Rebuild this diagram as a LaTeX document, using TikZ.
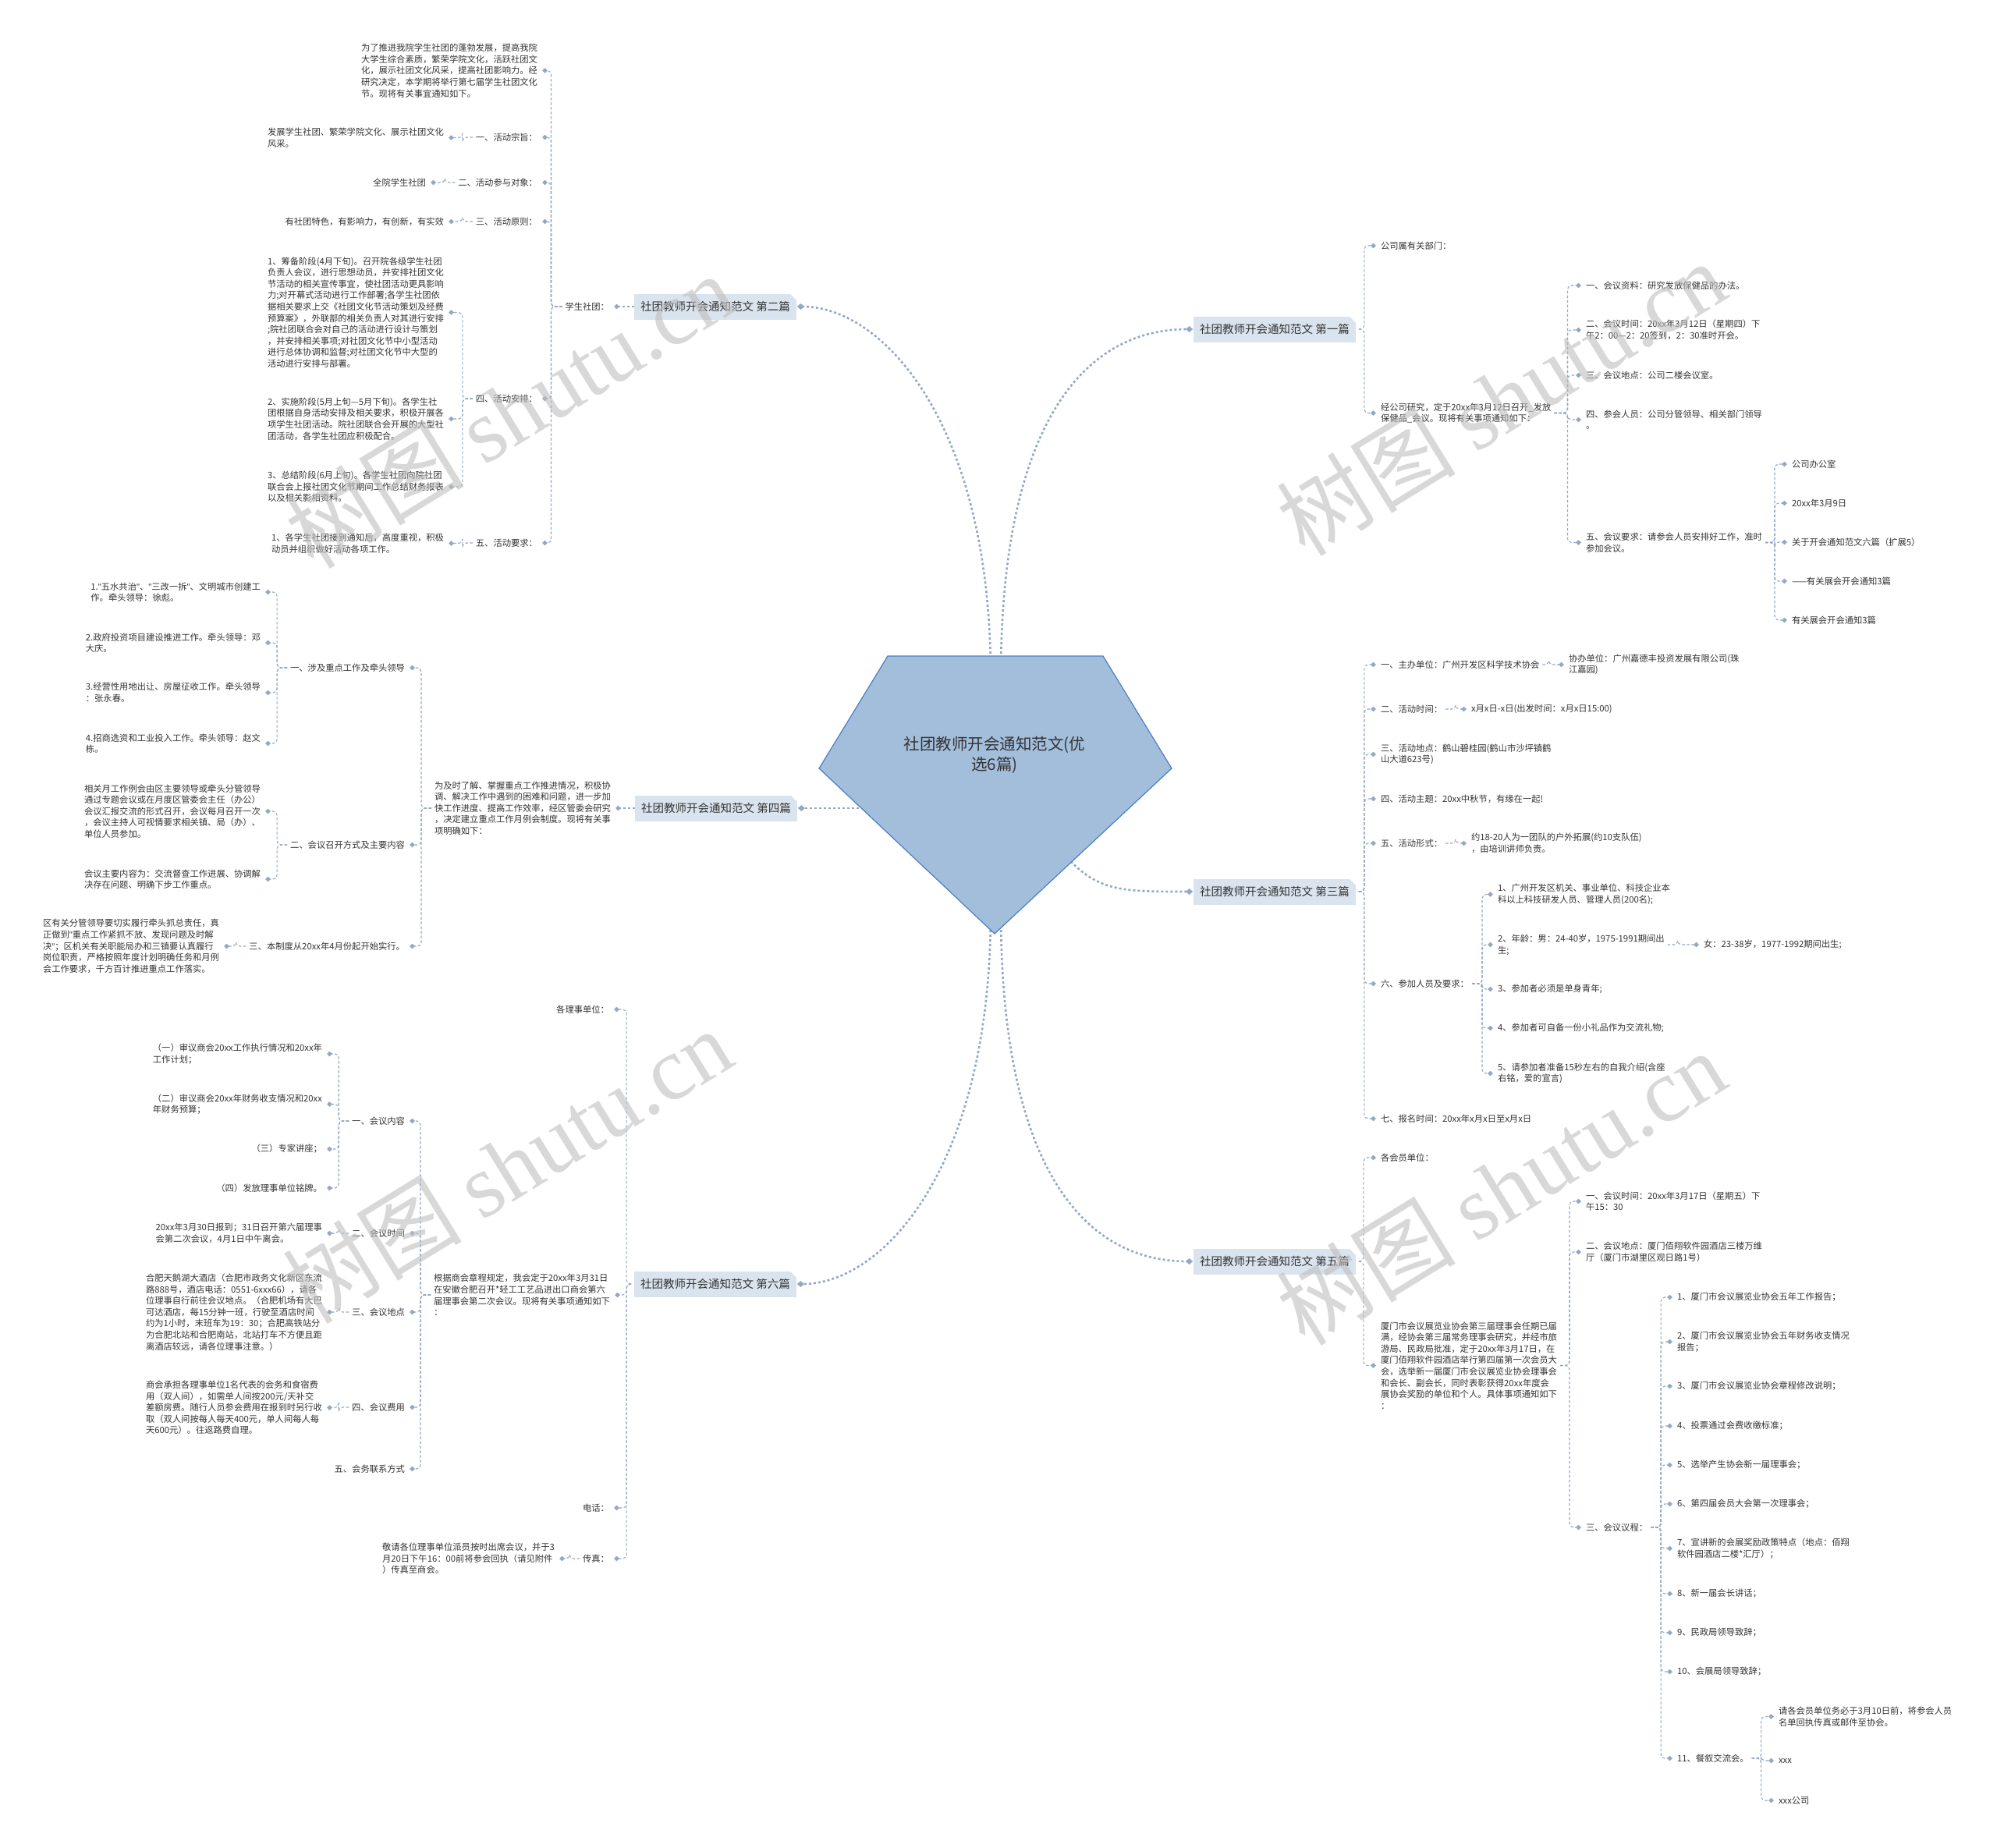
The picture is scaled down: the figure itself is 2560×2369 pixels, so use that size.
\documentclass[tikz,border=0pt]{standalone}
\usepackage{fontspec}
\setmainfont{Noto Sans CJK SC}
\newfontfamily\wmlatin{Liberation Serif}
\newfontfamily\qfont{Liberation Sans}
\newcommand\qq{{\qfont"}}
\usetikzlibrary{arrows.meta}
\definecolor{linec}{HTML}{92A9C4}
\definecolor{textc}{HTML}{333333}
\definecolor{boxc}{HTML}{DAE4EE}
\definecolor{pentf}{HTML}{A3BEDB}
\definecolor{pentd}{HTML}{4A7EC4}
\definecolor{wmc}{HTML}{BEBEBE}
\newcommand\cL[3]{\draw[conn] ([xshift=-4pt]#1.west) -- ([xshift=-#3pt]#1.west) |- ([xshift=6pt]#2.east);}
\newcommand\cR[3]{\draw[conn] ([xshift=4pt]#1.east) -- ([xshift=#3pt]#1.east) |- ([xshift=-6pt]#2.west);}
\tikzset{
  txt/.style={font=\fontsize{11.3pt}{14.6pt}\selectfont, text=textc, inner sep=0pt, outer sep=0pt, align=left},
  lt/.style={txt, anchor=east},
  rt/.style={txt, anchor=west},
  mbox/.style={fill=boxc, text=textc, font=\fontsize{14.5pt}{17pt}\selectfont, inner xsep=8pt, inner ysep=0pt, minimum height=33pt, outer sep=0pt},
  conn/.style={draw=linec, line width=1.1pt, dash pattern=on 3.5pt off 2.5pt, rounded corners=5pt, -{Diamond[length=7pt,width=6.5pt]}},
  mainconn/.style={draw=linec, line width=2.6pt, dash pattern=on 3pt off 3pt, -{Diamond[length=9pt,width=8pt]}},
  wm/.style={rotate=31.6, text=wmc, opacity=0.6, font=\fontsize{115pt}{115pt}\selectfont, inner sep=0pt}
}
\begin{document}
\begin{tikzpicture}[x=1pt,y=-1pt]
\useasboundingbox (0,0) rectangle (2560,2369);
\fill[white] (0,0) rectangle (2560,2369);
\coordinate (ctr) at (1275,968);

% main boxes
\node[mbox] (b2) at (917,393) {社团教师开会通知范文 第二篇};
\node[mbox] (b4) at (918,1036) {社团教师开会通知范文 第四篇};
\node[mbox] (b6) at (917,1646) {社团教师开会通知范文 第六篇};
\node[mbox] (b1) at (1634,422) {社团教师开会通知范文 第一篇};
\node[mbox] (b3) at (1634,1143) {社团教师开会通知范文 第三篇};
\node[mbox] (b5) at (1634,1617) {社团教师开会通知范文 第五篇};
\foreach \b in {b1,b2,b3,b4,b5,b6}
  \fill[white] ([xshift=-8pt]\b.north east) -- (\b.north east) -- ([yshift=-8pt]\b.north east) -- cycle;

% main connectors
\draw[mainconn] ([xshift=-5pt,yshift=100pt]ctr) .. controls (1270,540) and (1130,393) .. ([xshift=1pt]b2.east);
\draw[mainconn] ([xshift=8pt,yshift=100pt]ctr) .. controls (1283,560) and (1380,422) .. ([xshift=-1pt]b1.west);
\draw[mainconn] ([yshift=-68pt]ctr) -- ([xshift=1pt]b4.east);
\draw[mainconn] (ctr) .. controls (1390,1143) .. ([xshift=-1pt]b3.west);
\draw[mainconn] ([xshift=-5pt,yshift=-200pt]ctr) .. controls (1270,1500) and (1130,1646) .. ([xshift=1pt]b6.east);
\draw[mainconn] ([xshift=8pt,yshift=-200pt]ctr) .. controls (1283,1480) and (1380,1617) .. ([xshift=-1pt]b5.west);

% centre pentagon
\filldraw[fill=pentf, draw=pentd, line width=1.2pt] (1138,841) -- (1414,841) -- (1502,985) -- (1275,1197) -- (1050,985) -- cycle;
\node[font=\fontsize{20.5pt}{26pt}\selectfont, text=textc, align=center] (ctrtext) at (ctr) {社团教师开会通知范文(优\\选6篇)};

% ---------- 第二篇 ----------
\node[lt] (s2) at (781,393) {学生社团：};
\node[lt] (a1) at (689,90.5) {为了推进我院学生社团的蓬勃发展，提高我院\\大学生综合素质，繁荣学院文化，活跃社团文\\化，展示社团文化风采，提高社团影响力。经\\研究决定，本学期将举行第七届学生社团文化\\节。现将有关事宜通知如下。};
\node[lt] (a2) at (689,176) {一、活动宗旨：};
\node[lt] (a3) at (689,234) {二、活动参与对象：};
\node[lt] (a4) at (689,284) {三、活动原则：};
\node[lt] (a5) at (689,511) {四、活动安排：};
\node[lt] (a6) at (689,696) {五、活动要求：};
\node[lt] (a2c) at (569,176.5) {发展学生社团、繁荣学院文化、展示社团文化\\风采。};
\node[lt] (a3c) at (546,234) {全院学生社团};
\node[lt] (a4c) at (569,284) {有社团特色，有影响力，有创新，有实效};
\node[lt] (a5c1) at (569,400.5) {1、筹备阶段(4月下旬)。召开院各级学生社团\\负责人会议，进行思想动员，并安排社团文化\\节活动的相关宣传事宜，使社团活动更具影响\\力;对开幕式活动进行工作部署;各学生社团依\\据相关要求上交《社团文化节活动策划及经费\\预算案》，外联部的相关负责人对其进行安排\\;院社团联合会对自己的活动进行设计与策划\\，并安排相关事项;对社团文化节中小型活动\\进行总体协调和监督;对社团文化节中大型的\\活动进行安排与部署。};
\node[lt] (a5c2) at (569,537) {2、实施阶段(5月上旬—5月下旬)。各学生社\\团根据自身活动安排及相关要求，积极开展各\\项学生社团活动。院社团联合会开展的大型社\\团活动，各学生社团应积极配合。};
\node[lt] (a5c3) at (569,624) {3、总结阶段(6月上旬)。各学生社团向院社团\\联合会上报社团文化节期间工作总结财务报表\\以及相关影相资料。};
\node[lt] (a6c) at (569,696.5) {1、各学生社团接到通知后，高度重视，积极\\动员并组织做好活动各项工作。};
\draw[conn] (b2.west) -- ([xshift=6pt]s2.east);
\cL{s2}{a1}{18}\cL{s2}{a2}{18}\cL{s2}{a3}{18}\cL{s2}{a4}{18}\cL{s2}{a5}{18}\cL{s2}{a6}{18}
\cL{a2}{a2c}{17}\cL{a3}{a3c}{17}\cL{a4}{a4c}{17}
\cL{a5}{a5c1}{17}\cL{a5}{a5c2}{17}\cL{a5}{a5c3}{17}
\cL{a6}{a6c}{17}

% ---------- 第四篇 ----------
\node[lt] (c4) at (783,1036) {为及时了解、掌握重点工作推进情况，积极协\\调、解决工作中遇到的困难和问题，进一步加\\快工作进度、提高工作效率，经区管委会研究\\，决定建立重点工作月例会制度。现将有关事\\项明确如下：};
\node[lt] (d1) at (519,856) {一、涉及重点工作及牵头领导};
\node[lt] (d2) at (519,1083) {二、会议召开方式及主要内容};
\node[lt] (d3) at (519,1213) {三、本制度从20xx年4月份起开始实行。};
\node[lt] (d1c1) at (334,759) {1.\qq 五水共治\qq 、\qq 三改一拆\qq 、文明城市创建工\\作。牵头领导：徐彪。};
\node[lt] (d1c2) at (334,824) {2.政府投资项目建设推进工作。牵头领导：邓\\大庆。};
\node[lt] (d1c3) at (334,888) {3.经营性用地出让、房屋征收工作。牵头领导\\：张永春。};
\node[lt] (d1c4) at (334,953) {4.招商选资和工业投入工作。牵头领导：赵文\\栋。};
\node[lt] (d2c1) at (334,1040) {相关月工作例会由区主要领导或牵头分管领导\\通过专题会议或在月度区管委会主任（办公）\\会议汇报交流的形式召开，会议每月召开一次\\，会议主持人可视情要求相关镇、局（办）、\\单位人员参加。};
\node[lt] (d2c2) at (334,1127) {会议主要内容为：交流督查工作进展、协调解\\决存在问题、明确下步工作重点。};
\node[lt] (d3c) at (281,1213) {区有关分管领导要切实履行牵头抓总责任，真\\正做到\qq 重点工作紧抓不放、发现问题及时解\\决\qq ；区机关有关职能局办和三镇要认真履行\\岗位职责，严格按照年度计划明确任务和月例\\会工作要求，千方百计推进重点工作落实。};
\draw[conn] (b4.west) -- ([xshift=6pt]c4.east);
\cL{c4}{d1}{17}\cL{c4}{d2}{17}\cL{c4}{d3}{17}
\cL{d1}{d1c1}{17}\cL{d1}{d1c2}{17}\cL{d1}{d1c3}{17}\cL{d1}{d1c4}{17}
\cL{d2}{d2c1}{17}\cL{d2}{d2c2}{17}
\cL{d3}{d3c}{17}

% ---------- 第六篇 ----------
\node[lt] (e1) at (781,1294) {各理事单位：};
\node[lt] (e2) at (782,1660) {根据商会章程规定，我会定于20xx年3月31日\\在安徽合肥召开*轻工工艺品进出口商会第六\\届理事会第二次会议。现将有关事项通知如下\\：};
\node[lt] (e3) at (781,1933) {电话：};
\node[lt] (e4) at (781,1998) {传真：};
\node[lt] (f1) at (519,1437) {一、会议内容};
\node[lt] (f2) at (519,1581) {二、会议时间};
\node[lt] (f3) at (519,1682) {三、会议地点};
\node[lt] (f4) at (519,1804) {四、会议费用};
\node[lt] (f5) at (519,1883) {五、会务联系方式};
\node[lt] (f1c1) at (413,1351) {（一）审议商会20xx工作执行情况和20xx年\\工作计划；};
\node[lt] (f1c2) at (413,1415.5) {（二）审议商会20xx年财务收支情况和20xx\\年财务预算；};
\node[lt] (f1c3) at (413,1473) {（三）专家讲座；};
\node[lt] (f1c4) at (413,1523) {（四）发放理事单位铭牌。};
\node[lt] (f2c) at (413,1581) {20xx年3月30日报到；31日召开第六届理事\\会第二次会议，4月1日中午离会。};
\node[lt] (f3c) at (413,1682) {合肥天鹅湖大酒店（合肥市政务文化新区东流\\路888号，酒店电话：0551-6xxx66），请各\\位理事自行前往会议地点。（合肥机场有大巴\\可达酒店，每15分钟一班，行驶至酒店时间\\约为1小时，末班车为19：30；合肥高铁站分\\为合肥北站和合肥南站，北站打车不方便且距\\离酒店较远，请各位理事注意。）};
\node[lt] (f4c) at (413,1804.5) {商会承担各理事单位1名代表的会务和食宿费\\用（双人间），如需单人间按200元/天补交\\差额房费。随行人员参会费用在报到时另行收\\取（双人间按每人每天400元，单人间每人每\\天600元）。往返路费自理。};
\node[lt] (e4c) at (711,1998) {敬请各位理事单位派员按时出席会议，并于3\\月20日下午16：00前将参会回执（请见附件\\）传真至商会。};
\cL{b6}{e1}{10}\cL{b6}{e2}{10}\cL{b6}{e3}{10}\cL{b6}{e4}{10}
\cL{e2}{f1}{17}\cL{e2}{f2}{17}\cL{e2}{f3}{17}\cL{e2}{f4}{17}\cL{e2}{f5}{17}
\cL{f1}{f1c1}{17}\cL{f1}{f1c2}{17}\cL{f1}{f1c3}{17}\cL{f1}{f1c4}{17}
\cL{f2}{f2c}{17}\cL{f3}{f3c}{17}\cL{f4}{f4c}{17}
\cL{e4}{e4c}{17}

% ---------- 第一篇 ----------
\node[rt] (g1) at (1770,315) {公司属有关部门：};
\node[rt] (g2) at (1770,529.5) {经公司研究，定于20xx年3月12日召开\_发放\\保健品\_会议。现将有关事项通知如下：};
\node[rt] (h1) at (2033,366) {一、会议资料：研究发放保健品的办法。};
\node[rt] (h2) at (2033,423) {二、会议时间：20xx年3月12日（星期四）下\\午2：00—2：20签到，2：30准时开会。};
\node[rt] (h3) at (2033,481) {三、会议地点：公司二楼会议室。};
\node[rt] (h4) at (2033,538) {四、参会人员：公司分管领导、相关部门领导\\。};
\node[rt] (h5) at (2033,695.5) {五、会议要求：请参会人员安排好工作，准时\\参加会议。};
\node[rt] (h5c1) at (2297,595) {公司办公室};
\node[rt] (h5c2) at (2297,645) {20xx年3月9日};
\node[rt] (h5c3) at (2297,695) {关于开会通知范文六篇（扩展5）};
\node[rt] (h5c4) at (2297,745) {——有关展会开会通知3篇};
\node[rt] (h5c5) at (2297,795) {有关展会开会通知3篇};
\cR{b1}{g1}{11}\cR{b1}{g2}{11}
\cR{g2}{h1}{21}\cR{g2}{h2}{21}\cR{g2}{h3}{21}\cR{g2}{h4}{21}\cR{g2}{h5}{21}
\cR{h5}{h5c1}{16}\cR{h5}{h5c2}{16}\cR{h5}{h5c3}{16}\cR{h5}{h5c4}{16}\cR{h5}{h5c5}{16}

% ---------- 第三篇 ----------
\node[rt] (i1) at (1770,852) {一、主办单位：广州开发区科学技术协会};
\node[rt] (i2) at (1770,909) {二、活动时间：};
\node[rt] (i3) at (1770,967) {三、活动地点：鹤山碧桂园(鹤山市沙坪镇鹤\\山大道623号)};
\node[rt] (i4) at (1770,1024) {四、活动主题：20xx中秋节，有缘在一起!};
\node[rt] (i5) at (1770,1081) {五、活动形式：};
\node[rt] (i6) at (1770,1261) {六、参加人员及要求：};
\node[rt] (i7) at (1770,1434) {七、报名时间：20xx年x月x日至x月x日};
\node[rt] (i1c) at (2011,852) {协办单位：广州嘉德丰投资发展有限公司(珠\\江嘉园)};
\node[rt] (i2c) at (1886,909) {x月x日-x日(出发时间：x月x日15:00)};
\node[rt] (i5c) at (1886,1081) {约18-20人为一团队的户外拓展(约10支队伍)\\，由培训讲师负责。};
\node[rt] (i6c1) at (1920,1146.5) {1、广州开发区机关、事业单位、科技企业本\\科以上科技研发人员、管理人员(200名);};
\node[rt] (i6c2) at (1920,1211) {2、年龄：男：24-40岁，1975-1991期间出\\生;};
\node[rt] (i6c3) at (1920,1268) {3、参加者必须是单身青年;};
\node[rt] (i6c4) at (1920,1318) {4、参加者可自备一份小礼品作为交流礼物;};
\node[rt] (i6c5) at (1920,1376) {5、请参加者准备15秒左右的自我介绍(含座\\右铭，爱的宣言)};
\node[rt] (i6c2c) at (2184,1211) {女：23-38岁，1977-1992期间出生;};
\cR{b3}{i1}{11}\cR{b3}{i2}{11}\cR{b3}{i3}{11}\cR{b3}{i4}{11}\cR{b3}{i5}{11}\cR{b3}{i6}{11}\cR{b3}{i7}{11}
\cR{i1}{i1c}{12}\cR{i2}{i2c}{17}\cR{i5}{i5c}{17}
\cR{i6}{i6c1}{17}\cR{i6}{i6c2}{17}\cR{i6}{i6c3}{17}\cR{i6}{i6c4}{17}\cR{i6}{i6c5}{17}
\cR{i6c2}{i6c2c}{17}

% ---------- 第五篇 ----------
\node[rt] (k1) at (1770,1484) {各会员单位：};
\node[rt] (k2) at (1770,1750.5) {厦门市会议展览业协会第三届理事会任期已届\\满，经协会第三届常务理事会研究，并经市旅\\游局、民政局批准，定于20xx年3月17日，在\\厦门佰翔软件园酒店举行第四届第一次会员大\\会，选举新一届厦门市会议展览业协会理事会\\和会长、副会长，同时表彰获得20xx年度会\\展协会奖励的单位和个人。具体事项通知如下\\：};
\node[rt] (l1) at (2033,1540) {一、会议时间：20xx年3月17日（星期五）下\\午15：30};
\node[rt] (l2) at (2033,1605) {二、会议地点：厦门佰翔软件园酒店三楼万维\\厅（厦门市湖里区观日路1号）};
\node[rt] (l3) at (2033,1958) {三、会议议程：};
\node[rt] (m1) at (2150,1663) {1、厦门市会议展览业协会五年工作报告；};
\node[rt] (m2) at (2150,1720) {2、厦门市会议展览业协会五年财务收支情况\\报告；};
\node[rt] (m3) at (2150,1777) {3、厦门市会议展览业协会章程修改说明；};
\node[rt] (m4) at (2150,1828) {4、投票通过会费收缴标准；};
\node[rt] (m5) at (2150,1878) {5、选举产生协会新一届理事会；};
\node[rt] (m6) at (2150,1928) {6、第四届会员大会第一次理事会；};
\node[rt] (m7) at (2150,1985) {7、宣讲新的会展奖励政策特点（地点：佰翔\\软件园酒店二楼*汇厅）；};
\node[rt] (m8) at (2150,2043) {8、新一届会长讲话；};
\node[rt] (m9) at (2150,2093) {9、民政局领导致辞；};
\node[rt] (m10) at (2150,2143) {10、会展局领导致辞；};
\node[rt] (m11) at (2150,2254) {11、餐叙交流会。};
\node[rt] (n1) at (2280,2200.5) {请各会员单位务必于3月10日前，将参会人员\\名单回执传真或邮件至协会。};
\node[rt] (n2) at (2280,2257) {xxx};
\node[rt] (n3) at (2280,2308) {xxx公司};
\cR{b5}{k1}{10}\cR{b5}{k2}{10}
\cR{k2}{l1}{16}\cR{k2}{l2}{16}\cR{k2}{l3}{16}
\cR{l3}{m1}{17}\cR{l3}{m2}{17}\cR{l3}{m3}{17}\cR{l3}{m4}{17}\cR{l3}{m5}{17}\cR{l3}{m6}{17}
\cR{l3}{m7}{17}\cR{l3}{m8}{17}\cR{l3}{m9}{17}\cR{l3}{m10}{17}\cR{l3}{m11}{17}
\cR{m11}{n1}{16}\cR{m11}{n2}{16}\cR{m11}{n3}{16}

% watermarks
\node[wm] (wm1) at (653,526) {树图 {\wmlatin shutu.cn}};
\node[wm] (wm2) at (1924,510) {树图 {\wmlatin shutu.cn}};
\node[wm] (wm3) at (650,1494) {树图 {\wmlatin shutu.cn}};
\node[wm] (wm4) at (1924,1522) {树图 {\wmlatin shutu.cn}};
\end{tikzpicture}
\end{document}
